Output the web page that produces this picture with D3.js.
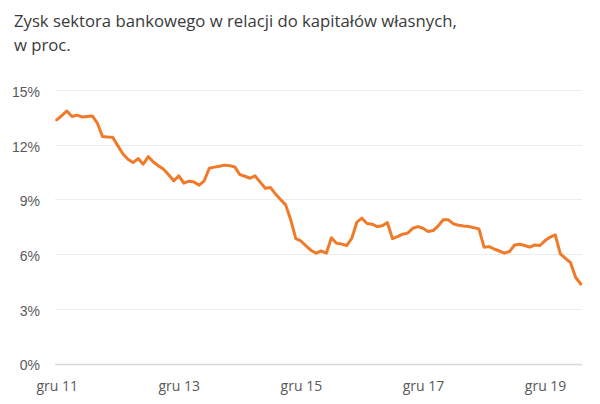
<!DOCTYPE html>
<html>
<head>
<meta charset="utf-8">
<script src="https://cdn.jsdelivr.net/npm/d3@7"></script>
<style>
  body { margin: 0; background: #fff; }
  svg { display: block; }
  .title { font-family: "Open Sans", "Noto Sans", sans-serif; font-size: 16.7px; fill: #3a3a3a; }
  .yaxis text { font-family: "Liberation Sans", Arial, sans-serif; font-size: 14px; fill: #595959; }
  .xaxis text { font-family: "Open Sans", "Noto Sans", sans-serif; font-size: 14px; fill: #595959; }
</style>
</head>
<body>
<svg id="chart" width="600" height="404"></svg>
<script>
// ROE of the banking sector, monthly, gru 2011 .. lip 2020 (%)
const roe = [
  13.36, 13.6, 13.85, 13.55, 13.62, 13.52, 13.55, 13.58, 13.18, 12.45,
  12.42, 12.41, 11.95, 11.5, 11.2, 11.02, 11.24, 10.93, 11.35, 11.05,
  10.85, 10.65, 10.35, 10.02, 10.29, 9.89, 10.0, 9.96, 9.78, 10.02,
  10.71, 10.77, 10.82, 10.88, 10.85, 10.78, 10.36, 10.27, 10.16, 10.29,
  9.95, 9.61, 9.65, 9.3, 9.0, 8.7, 7.88, 6.85, 6.72, 6.45,
  6.2, 6.05, 6.17, 6.05, 6.9, 6.6, 6.55, 6.47, 6.87, 7.75,
  7.97, 7.68, 7.64, 7.51, 7.55, 7.73, 6.85, 6.96, 7.09, 7.15,
  7.42, 7.51, 7.42, 7.24, 7.29, 7.55, 7.88, 7.88, 7.66, 7.58,
  7.54, 7.51, 7.45, 7.38, 6.38, 6.41, 6.28, 6.17, 6.05, 6.14,
  6.5, 6.54, 6.47, 6.38, 6.5, 6.47, 6.74, 6.93, 7.05, 6.01,
  5.77, 5.53, 4.73, 4.36
];
const xTickIndex = [0, 24, 48, 72, 96];
const xTickLabels = ["gru 11", "gru 13", "gru 15", "gru 17", "gru 19"];
const yTicks = [0, 3, 6, 9, 12, 15];
const titleLines = ["Zysk sektora bankowego w relacji do kapitałów własnych,", "w proc."];

const svg = d3.select("#chart");

const x = d3.scaleLinear().domain([0, roe.length - 1]).range([56.7, 580.7]);
const y = d3.scaleLinear().domain([0, 15]).range([363.5, 90]);
const gridLeft = 55, gridRight = 582;

// title
svg.append("text")
  .attr("class", "title")
  .selectAll("tspan")
  .data(titleLines)
  .join("tspan")
  .attr("x", 14)
  .attr("y", (d, i) => 27 + i * 23.5)
  .text(d => d);

// gridlines
svg.append("g")
  .selectAll("line")
  .data(yTicks)
  .join("line")
  .attr("x1", gridLeft)
  .attr("x2", gridRight)
  .attr("y1", d => Math.round(y(d)) + 0.5)
  .attr("y2", d => Math.round(y(d)) + 0.5)
  .attr("stroke", d => d === 0 ? "#d9d9d9" : "#ececec")
  .attr("stroke-width", d => d === 0 ? 1.5 : 1);

// y axis labels
const yAxis = d3.axisLeft(y)
  .tickValues(yTicks)
  .tickFormat(d => d + "%")
  .tickSize(0)
  .tickPadding(0);

svg.append("g")
  .attr("class", "yaxis")
  .attr("transform", "translate(40, 2)")
  .call(yAxis)
  .call(g => g.select(".domain").remove());

// x axis labels
const xAxis = d3.axisBottom(x)
  .tickValues(xTickIndex)
  .tickFormat((d, i) => xTickLabels[i])
  .tickSize(0)
  .tickPadding(0);

svg.append("g")
  .attr("class", "xaxis")
  .attr("transform", "translate(0, 381)")
  .call(xAxis)
  .call(g => g.select(".domain").remove());

// line
const line = d3.line()
  .x((d, i) => x(i))
  .y(d => y(d));

svg.append("path")
  .datum(roe)
  .attr("d", line)
  .attr("fill", "none")
  .attr("stroke", "#EF7B2A")
  .attr("stroke-width", 3)
  .attr("stroke-linejoin", "round")
  .attr("stroke-linecap", "round");
</script>
</body>
</html>
